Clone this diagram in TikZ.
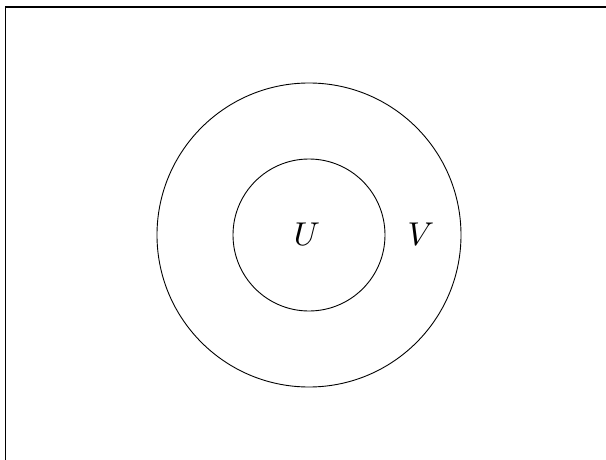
\documentclass[tikz,border=0pt]{standalone}
\begin{document}
\begin{tikzpicture}[x=1pt,y=-1pt,
  ring/.style={draw,line width=0.9pt},
  framepart/.style={line width=1.8pt},
  lbl/.style={scale=3.3,inner sep=0pt}]
\useasboundingbox (0,0) rectangle (606,460);
\coordinate (fbl) at (5.5,460);
\coordinate (ftl) at (5.5,7);
\coordinate (ftr) at (606,7);
\draw[framepart] (fbl) -- (ftl) -- (ftr);
\node[ring,circle,minimum size=304pt,inner sep=0pt] (outer) at (309,235) {};
\node[ring,circle,minimum size=152pt,inner sep=0pt] (inner) at (309,235) {};
\node[lbl] (U) at (307,234) {$U$};
\node[lbl] (V) at (421,234) {$V$};
\end{tikzpicture}
\end{document}
